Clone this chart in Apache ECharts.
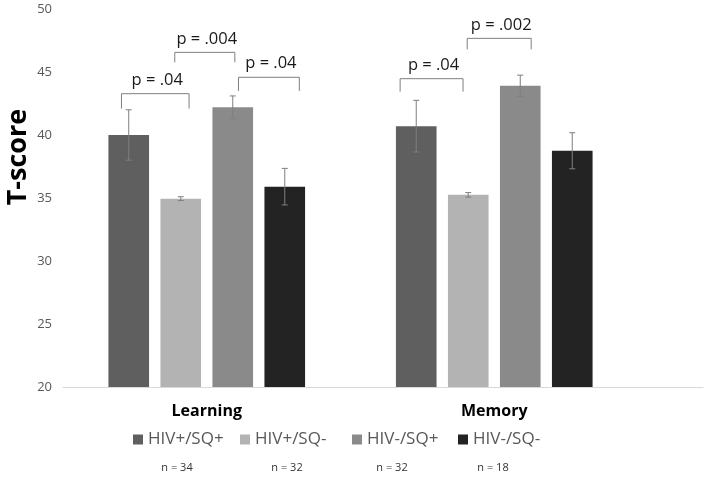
<!DOCTYPE html>
<html>
<head>
<meta charset="utf-8">
<script src="https://cdn.jsdelivr.net/npm/echarts@6/dist/echarts.min.js"></script>
<style>html,body{margin:0;padding:0;background:#fff}#c{width:708px;height:478px}</style>
</head>
<body>
<div id="c"></div>
<script>
// ---- data ----
const categories = ['Learning', 'Memory'];
const groupNames = ['HIV+/SQ+', 'HIV+/SQ-', 'HIV-/SQ+', 'HIV-/SQ-'];
const hivPosSqPos = [40.0, 40.7];
const hivPosSqNeg = [34.95, 35.25];
const hivNegSqPos = [42.2, 43.9];
const hivNegSqNeg = [35.9, 38.75];
const errPosSqPos = [2.0, 2.05];
const errPosSqNeg = [0.15, 0.18];
const errNegSqPos = [0.9, 0.85];
const errNegSqNeg = [1.45, 1.43];
const groupColors = ['#5f5f5f', '#b3b3b3', '#8a8a8a', '#232323'];
const yMin = 20, yMax = 50, yStep = 5;
// significance brackets: category index, from slot, to slot, top value, leg end value, text
const bracketCat  = [0, 0, 0, 1, 1];
const bracketFrom = [-0.14, 0.885, 2.11, -0.31, 0.98];
const bracketTo   = [1.16, 2.04, 3.28, 0.9, 2.21];
const bracketTop  = [43.28, 46.56, 44.58, 44.47, 47.67];
const bracketLeg  = [42.1, 45.77, 43.5, 43.44, 46.8];
const bracketText = ['p = .04', 'p = .004', 'p = .04', 'p = .04', 'p = .002'];
const nLabels = ['n = 34', 'n = 32', 'n = 32', 'n = 18'];

const means = [hivPosSqPos, hivPosSqNeg, hivNegSqPos, hivNegSqNeg];
const errs = [errPosSqPos, errPosSqNeg, errNegSqPos, errNegSqNeg];
const N = groupNames.length;
const CAT_GAP = 0.316, BAR_GAP = 0.28;

function slotX(api, cat, slot) {
  const c = api.coord([cat, yMin]);
  const band = api.size([1, 0])[0];
  const used = band * (1 - CAT_GAP);
  const bw = used / (N + (N - 1) * BAR_GAP);
  return c[0] - used / 2 + bw / 2 + slot * bw * (1 + BAR_GAP);
}

const errData = [];
for (let s = 0; s < N; s++) for (let c = 0; c < categories.length; c++) errData.push([c, s, means[s][c], errs[s][c]]);
const brData = bracketCat.map((c, i) => [c, bracketFrom[i], bracketTo[i], bracketTop[i], bracketLeg[i], i]);

const FONT = '"Open Sans", "DejaVu Sans", sans-serif';

const series = groupNames.map((name, s) => ({
  name, type: 'bar', xAxisIndex: 0, yAxisIndex: 0,
  data: means[s], barGap: (BAR_GAP * 100) + '%', barCategoryGap: (CAT_GAP * 100) + '%',
  itemStyle: { color: groupColors[s] }, emphasis: { disabled: true }
}));
series.push({
  type: 'custom', name: 'err', xAxisIndex: 0, yAxisIndex: 0, z: 5, silent: true,
  data: errData, encode: { x: 0, y: 2 },
  renderItem(params, api) {
    const c = api.value(0), s = api.value(1), m = api.value(2), e = api.value(3);
    const x = slotX(api, c, s);
    const yt = api.coord([c, m + e])[1], yb = api.coord([c, m - e])[1];
    const st = { stroke: '#7f7f7f', lineWidth: 1 };
    return { type: 'group', children: [
      { type: 'line', shape: { x1: x, y1: yt, x2: x, y2: yb }, style: st },
      { type: 'line', shape: { x1: x - 3, y1: yt, x2: x + 3, y2: yt }, style: st },
      { type: 'line', shape: { x1: x - 3, y1: yb, x2: x + 3, y2: yb }, style: st }
    ]};
  }
});
series.push({
  type: 'custom', name: 'brackets', xAxisIndex: 0, yAxisIndex: 0, z: 6, silent: true, clip: false,
  data: brData, encode: { x: 0, y: 3 },
  renderItem(params, api) {
    const c = api.value(0);
    const x1 = slotX(api, c, api.value(1)), x2 = slotX(api, c, api.value(2));
    const yt = api.coord([c, api.value(3)])[1], yl = api.coord([c, api.value(4)])[1];
    return { type: 'group', children: [
      { type: 'polyline', shape: { points: [[x1, yl], [x1, yt], [x2, yt], [x2, yl]] },
        style: { stroke: '#7f7f7f', lineWidth: 1, fill: null } },
      { type: 'text', style: { text: bracketText[api.value(5)], x: (x1 + x2) / 2 + 2, y: yt - 5,
        align: 'center', verticalAlign: 'bottom', fill: '#1a1a1a', font: '16.5px ' + FONT } }
    ]};
  }
});

const legendLefts = [131, 238, 350, 456];
const legends = groupNames.map((name, i) => ({
  data: [name], left: legendLefts[i], top: 429, icon: 'rect', itemWidth: 10, itemHeight: 10,
  padding: 2, textStyle: { color: '#595959', fontSize: 17, fontFamily: FONT }
}));

const chart = echarts.init(document.getElementById('c'), null, { renderer: 'canvas' });
chart.setOption({
  animation: false,
  backgroundColor: '#ffffff',
  grid: [
    { left: 63, right: 70, top: 9, bottom: 91 },
    { left: 63, right: 5, top: 9, bottom: 91 }
  ],
  legend: legends,
  xAxis: [
    { type: 'category', gridIndex: 0, data: categories,
      axisLine: { show: false }, axisTick: { show: false },
      axisLabel: { color: '#000', fontWeight: 'bold', fontSize: 16, fontFamily: FONT, margin: 16 } },
    { type: 'value', gridIndex: 1, min: 0, max: 1, axisLine: { show: true, lineStyle: { color: '#d9d9d9' } },
      axisTick: { show: false }, axisLabel: { show: false }, splitLine: { show: false } }
  ],
  yAxis: [
    { type: 'value', gridIndex: 0, min: yMin, max: yMax, interval: yStep,
      axisLine: { show: false }, axisTick: { show: false }, splitLine: { show: false },
      axisLabel: { color: '#595959', fontSize: 13, fontFamily: FONT, margin: 11 } },
    { type: 'value', gridIndex: 1, min: 0, max: 1, show: false }
  ],
  graphic: [
    { type: 'text', x: 18, y: 157, rotation: Math.PI / 2,
      style: { text: 'T-score', x: 0, y: 0, align: 'center', verticalAlign: 'middle',
        fill: '#000', font: 'bold 27px ' + FONT } },
    { type: 'text', x: 177, y: 468, style: { text: nLabels[0], align: 'center', verticalAlign: 'middle', fill: '#333', font: '11px ' + FONT } },
    { type: 'text', x: 287, y: 468, style: { text: nLabels[1], align: 'center', verticalAlign: 'middle', fill: '#333', font: '11px ' + FONT } },
    { type: 'text', x: 392, y: 468, style: { text: nLabels[2], align: 'center', verticalAlign: 'middle', fill: '#333', font: '11px ' + FONT } },
    { type: 'text', x: 493, y: 468, style: { text: nLabels[3], align: 'center', verticalAlign: 'middle', fill: '#333', font: '11px ' + FONT } }
  ],
  series
});
</script>
</body>
</html>
